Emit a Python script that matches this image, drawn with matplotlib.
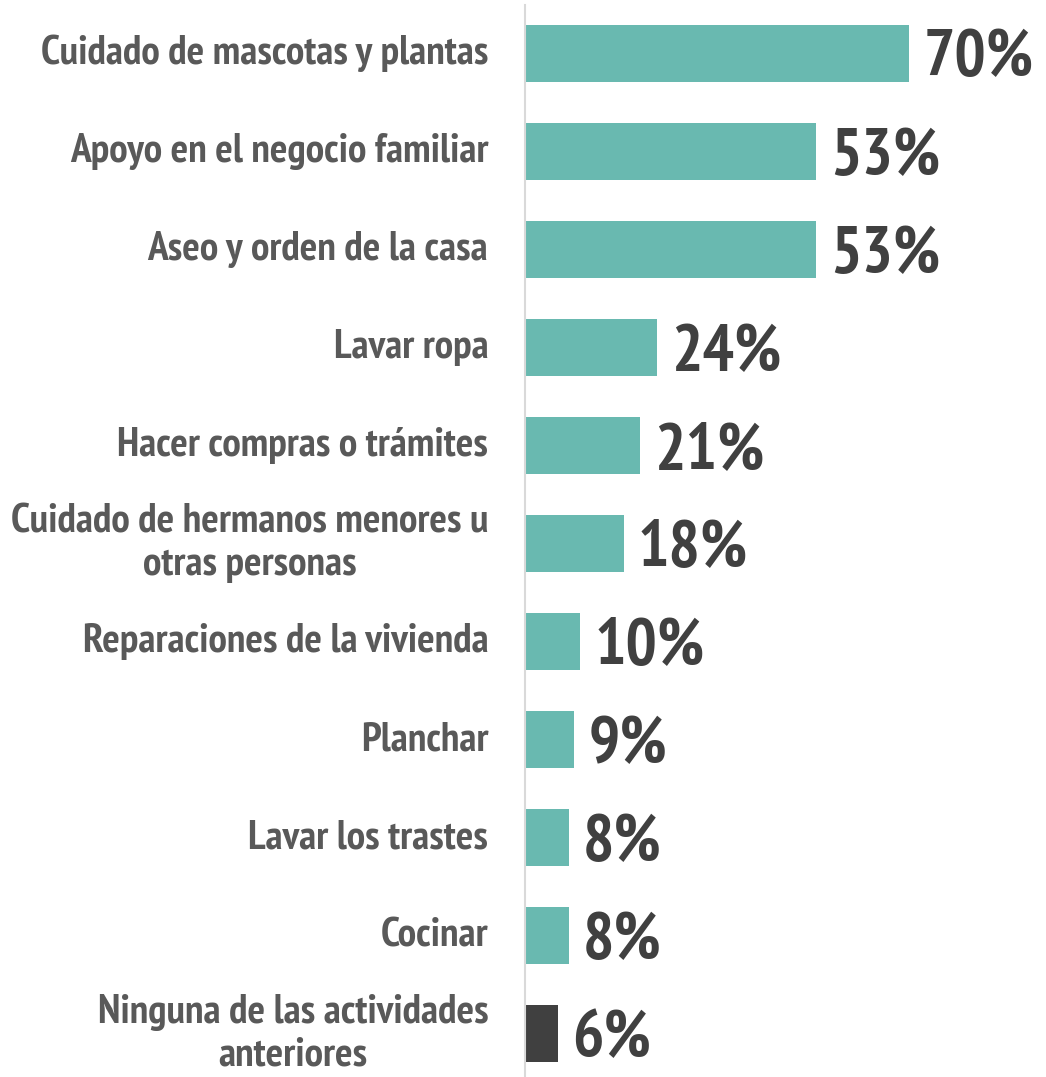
import matplotlib
matplotlib.use('Agg')
import matplotlib.pyplot as plt
from matplotlib import font_manager
from matplotlib.font_manager import FontProperties

categories = [
    "Cuidado de mascotas y plantas",
    "Apoyo en el negocio familiar",
    "Aseo y orden de la casa",
    "Lavar ropa",
    "Hacer compras o trámites",
    "Cuidado de hermanos menores u\notras personas",
    "Reparaciones de la vivienda",
    "Planchar",
    "Lavar los trastes",
    "Cocinar",
    "Ninguna de las actividades\nanteriores",
]
values = [70, 53, 53, 24, 21, 18, 10, 9, 8, 8, 6]
bar_colors = ["#69b9b0"] * 10 + ["#404040"]

# look for a narrow / condensed bold face
cand = []
for f in font_manager.fontManager.ttflist:
    narrow = ("Narrow" in f.name or "Condensed" in f.name or "condensed" in str(f.stretch)
              or "Condensed" in f.fname or "Narrow" in f.fname)
    bold = f.weight in ("bold", 700, 600, "semibold", "demibold") or "Bold" in f.fname
    if narrow and bold and "Oblique" not in f.fname and "Italic" not in f.fname:
        cand.append(f.fname)
cand.sort(key=lambda p: (0 if "Narrow" in p else 1, p))
if cand:
    fp = FontProperties(fname=cand[0])
else:
    fp = FontProperties(family="DejaVu Sans", weight="bold")

fig = plt.figure(figsize=(10.46, 10.77), dpi=100)
ax = fig.add_axes([525 / 1046, 0, 1 - 525 / 1046, 1 - 5 / 1077])

ypos = list(range(len(values)))
ax.barh(ypos, values, height=0.58, color=bar_colors, zorder=2)
ax.set_xlim(0, 95)
ax.set_ylim(10.44, -0.49)

for s in ["top", "right", "bottom"]:
    ax.spines[s].set_visible(False)
ax.spines["left"].set_color("#d9d9d9")
ax.spines["left"].set_linewidth(1.5)
ax.set_xticks([])
ax.set_yticks([])

# size the fonts so the widths match the reference
r = fig.canvas.get_renderer()
t = fig.text(0, 0, "Cuidado de mascotas y plantas", fontproperties=fp, fontsize=20)
lab_size = 20 * 448 / t.get_window_extent(r).width
t.set_text("70%")
t.set_fontsize(40)
val_size = 40 * 110 / t.get_window_extent(r).width
t.remove()
lab_size = min(lab_size, 30)
val_size = min(val_size, 53)

for y, v, lab in zip(ypos, values, categories):
    ax.text(v + 2.6, y + 0.06, f"{v}%", va="center", ha="left",
            fontproperties=fp, fontsize=val_size, color="#404040")
    ax.text(-6.7, y, lab, va="center", ha="right", multialignment="center",
            fontproperties=fp, fontsize=lab_size, color="#595959",
            linespacing=1.2)

fig.savefig("out.png", dpi=100)
